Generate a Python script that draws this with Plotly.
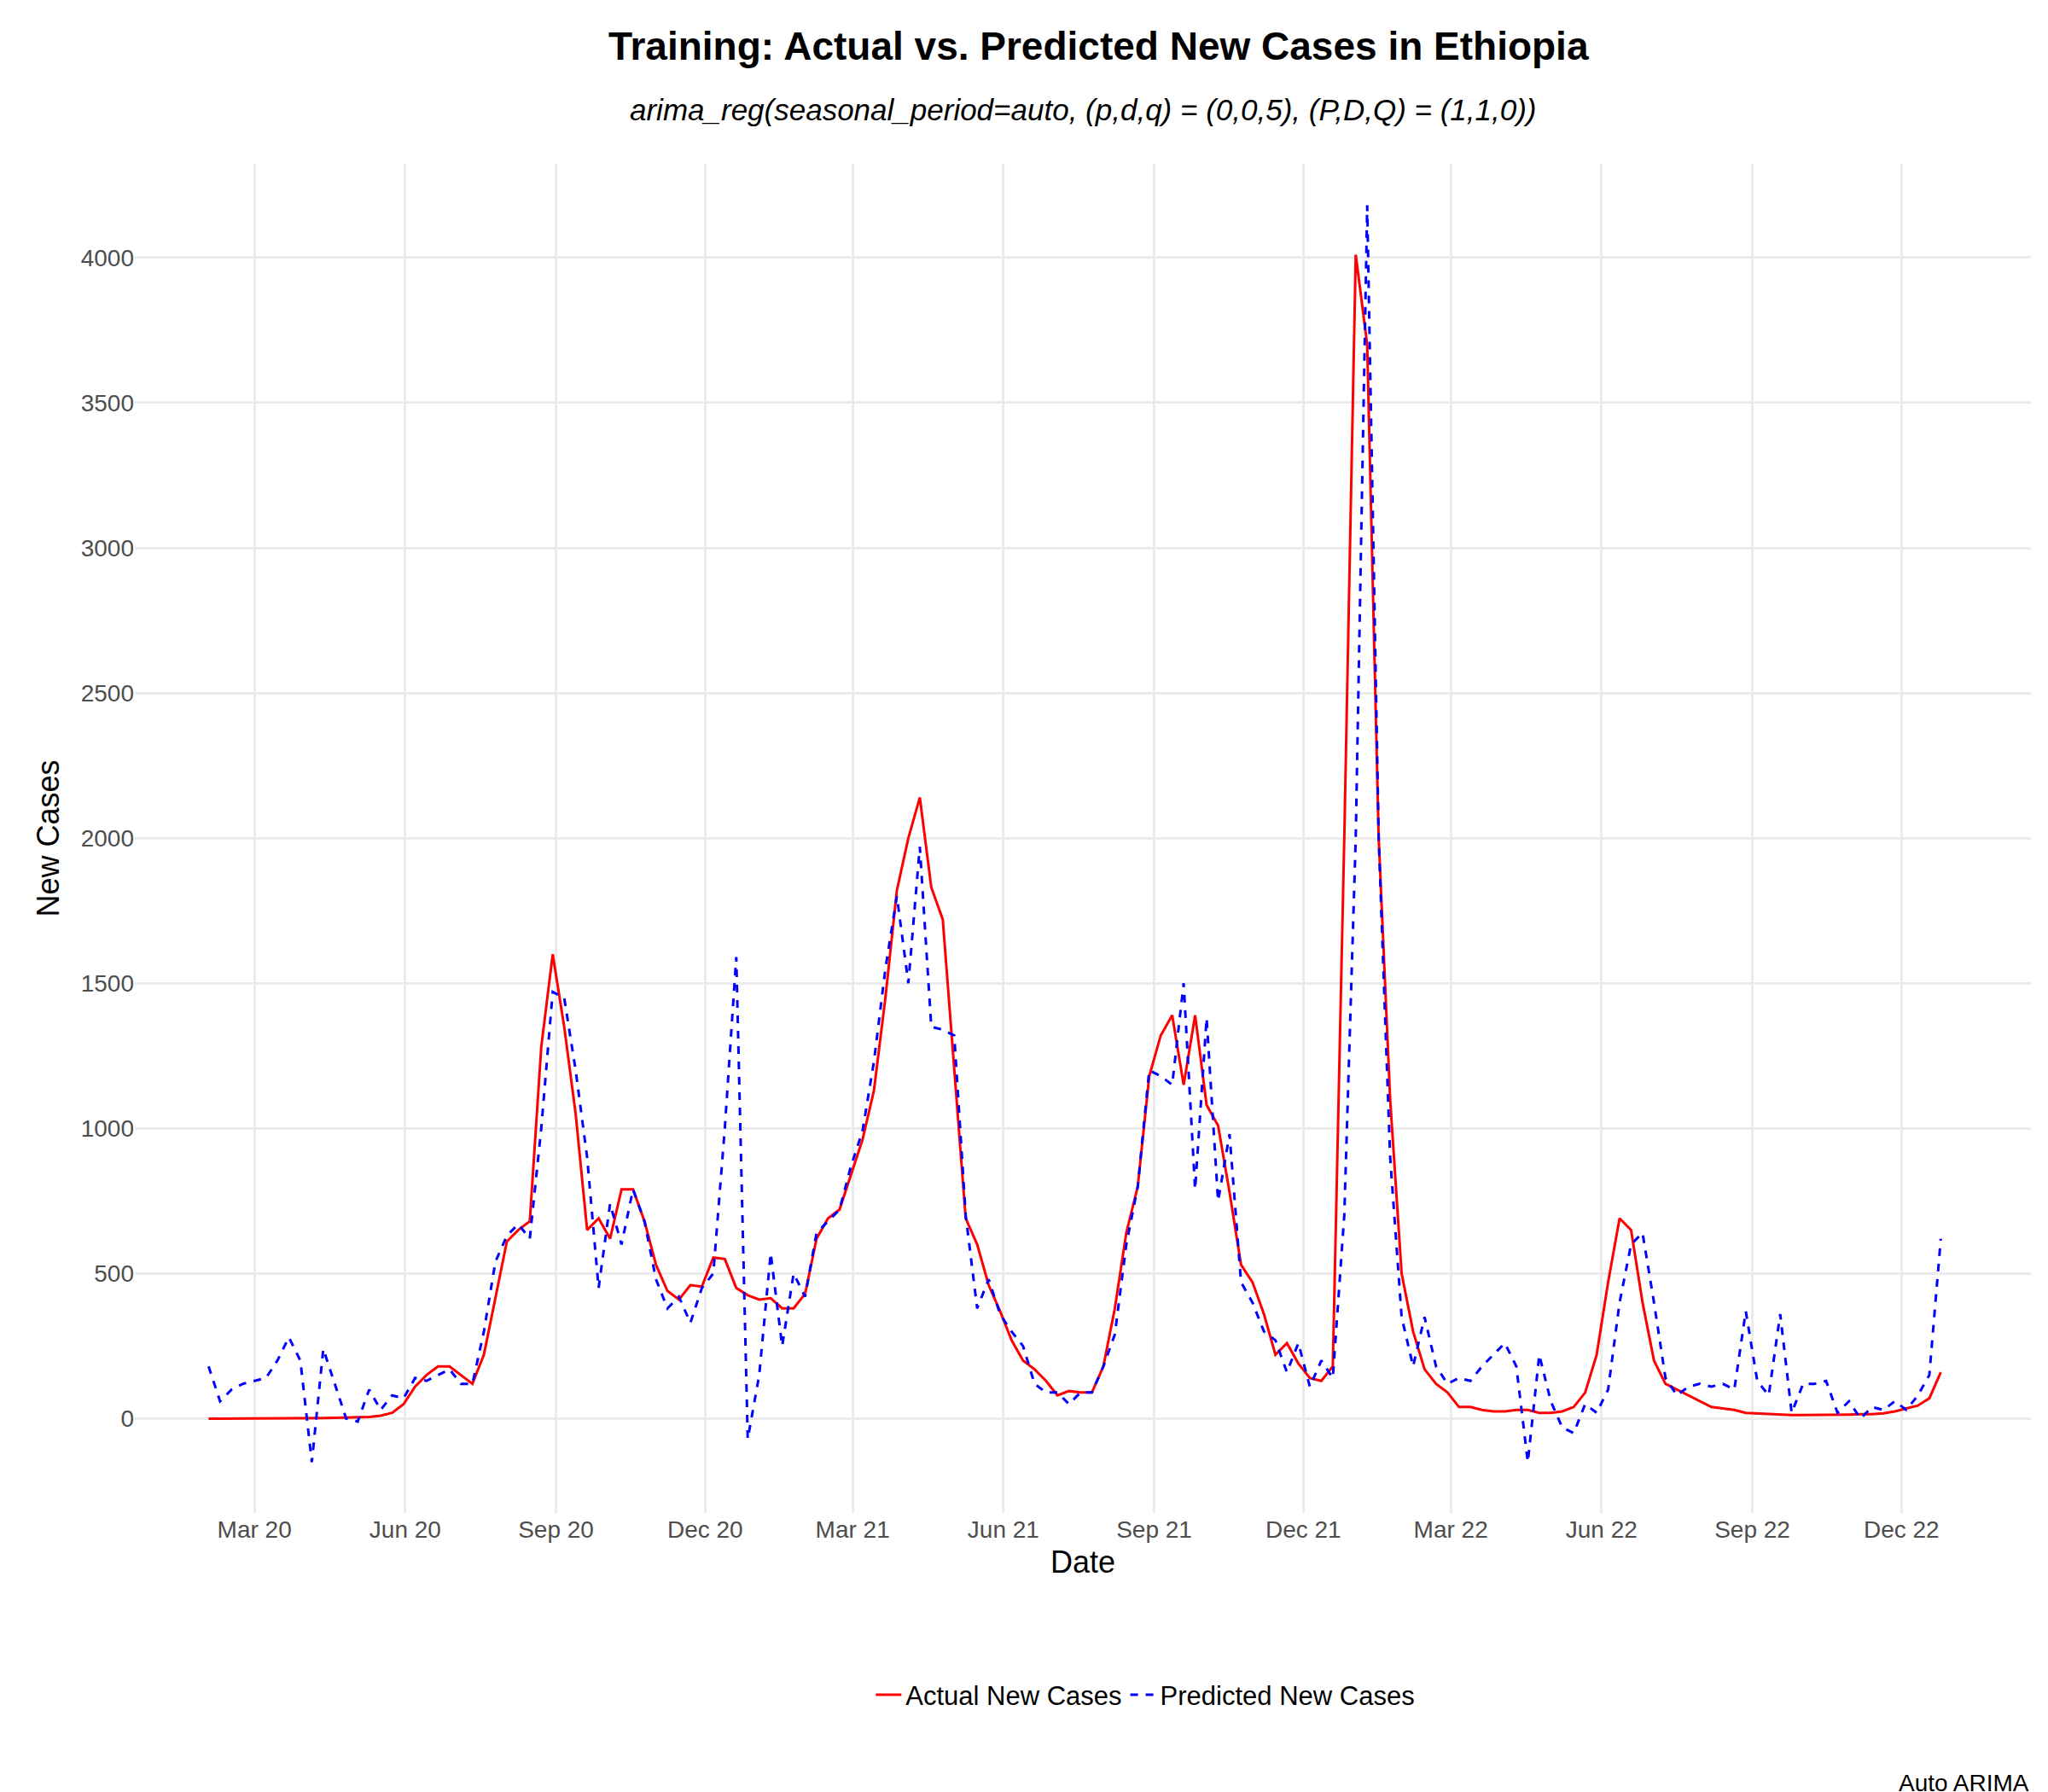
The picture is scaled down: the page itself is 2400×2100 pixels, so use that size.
import pandas as pd
import plotly.graph_objects as go

start_date = "2020-02-02"
n_weeks = 152

actual = [
    0, 0, 0, 0, 0, 0, 0, 0, 0, 1,
    2, 3, 4, 5, 6, 10, 20, 50, 110, 150,
    180, 180, 150, 120, 220, 420, 610, 650, 680, 1280,
    1600, 1350, 1050, 650, 690, 620, 790, 790, 680, 530,
    440, 410, 460, 455, 555, 550, 450, 425, 410, 415,
    380, 380, 430, 620, 690, 720, 840, 960, 1130, 1450,
    1820, 2000, 2140, 1830, 1720, 1200, 690, 600, 460, 370,
    270, 200, 170, 130, 80, 95, 90, 90, 180, 380,
    640, 800, 1180, 1320, 1390, 1150, 1390, 1080, 1010, 780,
    530, 470, 360, 220, 260, 190, 140, 130, 180, 2000,
    4010, 3700, 2000, 1100, 500, 300, 170, 120, 90, 40,
    40, 30, 25, 25, 30, 30, 20, 20, 25, 40,
    90, 220, 470, 690, 650, 400, 200, 120, 100, 80,
    60, 40, 35, 30, 20, 18, 15, 15, 12, 12,
    12, 12, 12, 14, 15, 15, 18, 25, 35, 45,
    70, 160,
]

predicted = [
    180, 60, 100, 120, 130, 140, 200, 280, 200, -150,
    240, 120, 0, -10, 100, 30, 80, 70, 140, 130,
    150, 170, 120, 120, 300, 540, 630, 670, 620, 1000,
    1470, 1450, 1200, 900, 450, 740, 600, 790, 680, 480,
    380, 420, 330, 450, 500, 1000, 1590, -70, 150, 570,
    250, 500, 420, 640, 680, 720, 870, 990, 1230, 1550,
    1800, 1500, 1970, 1350, 1340, 1320, 700, 380, 480, 360,
    300, 250, 120, 90, 90, 50, 90, 90, 180, 290,
    600, 800, 1200, 1180, 1150, 1500, 790, 1380, 750, 980,
    470, 400, 300, 270, 160, 260, 110, 200, 140, 700,
    2000, 4180, 2000, 900, 350, 180, 350, 180, 120, 140,
    130, 180, 220, 260, 180, -150, 220, 60, -30, -50,
    50, 20, 100, 400, 600, 640, 400, 140, 80, 110,
    120, 110, 120, 100, 370, 130, 80, 360, 20, 120,
    120, 130, 20, 60, 0, 40, 30, 60, 30, 80,
    150, 620,
]

tick_dates = pd.date_range("2020-03-01", "2022-12-01", freq="3MS")
tick_labels = [d.strftime("%b %y") for d in tick_dates]

dates = pd.date_range(start_date, periods=n_weeks, freq="7D")

fig = go.Figure()
fig.add_trace(go.Scatter(x=dates, y=actual, mode="lines", name="Actual New Cases",
                         line=dict(color="red", width=3)))
fig.add_trace(go.Scatter(x=dates, y=predicted, mode="lines", name="Predicted New Cases",
                         line=dict(color="blue", width=3, dash="dash")))

font = "Liberation Sans, Arial, sans-serif"
fig.update_layout(
    width=2400, height=2100,
    paper_bgcolor="white", plot_bgcolor="white",
    font=dict(family=font, color="black"),
    margin=dict(l=150, r=28, t=184, b=335),
    title=dict(text="<b>Training: Actual vs. Predicted New Cases in Ethiopia</b>",
               x=0.533, xanchor="center", y=0.978, yanchor="middle", font=dict(size=46)),
    legend=dict(orientation="h", x=0.533, xanchor="center", y=-0.135, yanchor="middle",
                font=dict(size=31)),
    xaxis=dict(title=dict(text="Date", font=dict(size=36), standoff=10),
               tickvals=tick_dates, ticktext=tick_labels,
               range=["2019-12-19", "2023-02-18"],
               showgrid=True, gridcolor="#ebebeb", gridwidth=3, zeroline=False,
               tickfont=dict(size=28, color="#4d4d4d"), ticks=""),
    yaxis=dict(title=dict(text="New Cases", font=dict(size=36), standoff=14),
               range=[-325, 4323], dtick=500,
               showgrid=True, gridcolor="#ebebeb", gridwidth=3, zeroline=False,
               tickfont=dict(size=28, color="#4d4d4d"), ticks=""),
    annotations=[
        dict(text="<i>arima_reg(seasonal_period=auto, (p,d,q) = (0,0,5), (P,D,Q) = (1,1,0))</i>",
             xref="paper", yref="paper", x=0.5, y=1.04, xanchor="center", yanchor="middle",
             showarrow=False, font=dict(size=35, color="black")),
        dict(text="Auto ARIMA", xref="paper", yref="paper", x=1.0, y=-0.2,
             xanchor="right", yanchor="middle", showarrow=False,
             font=dict(size=28, color="black")),
    ],
)

fig.write_html("out.html")
